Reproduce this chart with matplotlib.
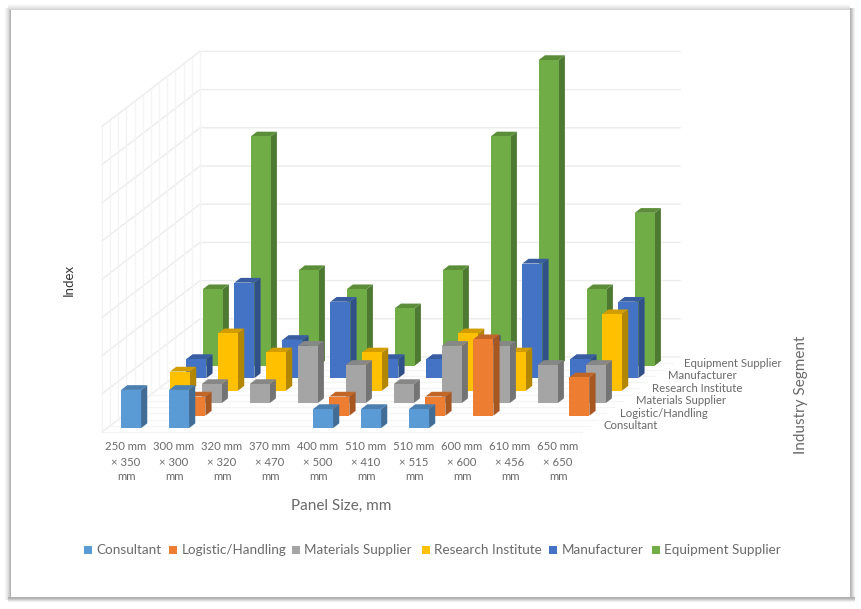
# -*- coding: utf-8 -*-
from matplotlib import pyplot as plt
from matplotlib.colors import to_rgb
from matplotlib.patches import Polygon, Rectangle

plt.rcParams['font.family'] = ['Lato', 'DejaVu Sans']

# Donnees du graphique :
panel_sizes = ["250 mm\n× 350\nmm", "300 mm\n× 300\nmm", "320 mm\n× 320\nmm",
               "370 mm\n× 470\nmm", "400 mm\n× 500\nmm", "510 mm\n× 410\nmm",
               "510 mm\n× 515\nmm", "600 mm\n× 600\nmm", "610 mm\n× 456\nmm",
               "650 mm\n× 650\nmm"]
segments = ["Consultant", "Logistic/Handling", "Materials Supplier",
            "Research Institute", "Manufacturer", "Equipment Supplier"]

consultant = [1, 1, 0, 0, 0.5, 0.5, 0.5, 0, 0, 0]
logistic = [0, 0.5, 0, 0, 0.5, 0, 0.5, 2, 0, 1]
materials = [0, 0.5, 0.5, 1.5, 1, 0.5, 1.5, 1.5, 1, 1]
research = [0.5, 1.5, 1, 0, 1, 0, 1.5, 1, 0, 2]
manufacturer = [0.5, 2.5, 1, 2, 0.5, 0.5, 1, 3, 0.5, 2]
equipment = [2, 6, 2.5, 2, 1.5, 2.5, 6, 8, 2, 4]

series = [consultant, logistic, materials, research, manufacturer, equipment]
colors = ["#5B9BD5", "#ED7D31", "#A5A5A5", "#FFC000", "#4472C4", "#70AD47"]

# Projection oblique (pixels) :
ORIGIN = (102.0, 432.0)
CAT_STEP = 48.0
ROW_DX, ROW_DY = 16.33, 12.5
UNIT = 38.2
BAR_W = 0.208
BAR_D = 0.19
MAX_INDEX = 8

TEXT_COLOR = "#6a6a6a"
GRID_COLOR = "#ececec"


def project(cat: float, row: float, val: float) -> tuple:
    """
    Passe de (categorie, rang, valeur) aux pixels de la figure.
    """
    x = ORIGIN[0] + CAT_STEP * cat + ROW_DX * row
    y = ORIGIN[1] - ROW_DY * row - UNIT * val
    return (x, y)


def shade(color: str, factor: float) -> tuple:
    return tuple(c * factor for c in to_rgb(color))


def draw_bar(ax, cat: int, row: int, val: float, color: str) -> None:
    """
    Dessine une barre : face avant, flanc droit et dessus.
    """
    c0, c1 = cat + 0.5 - BAR_W, cat + 0.5 + BAR_W
    r0, r1 = row + 0.5 - BAR_D, row + 0.5 + BAR_D

    front = [project(c0, r0, 0), project(c1, r0, 0),
             project(c1, r0, val), project(c0, r0, val)]
    side = [project(c1, r0, 0), project(c1, r1, 0),
            project(c1, r1, val), project(c1, r0, val)]
    top = [project(c0, r0, val), project(c1, r0, val),
           project(c1, r1, val), project(c0, r1, val)]

    ax.add_patch(Polygon(side, fc=shade(color, 0.7), ec="none"))
    ax.add_patch(Polygon(top, fc=shade(color, 0.82), ec="none"))
    ax.add_patch(Polygon(front, fc=color, ec="none"))


def draw_edge(ax, start: float, greys: list, span: tuple, vertical: bool,
              step: int) -> None:
    """
    Degrade du cadre, une bande d'un pixel par niveau de gris.
    """
    for k, g in enumerate(greys):
        pos = start + step * k
        if vertical:
            ax.add_patch(Rectangle((pos, span[0]), 1, span[1] - span[0],
                                   fc=str(g / 255), ec="none"))
        else:
            ax.add_patch(Rectangle((span[0], pos), span[1] - span[0], 1,
                                   fc=str(g / 255), ec="none"))


def draw_frame(ax) -> None:
    draw_edge(ax, 4, [252, 246, 238, 228, 216, 200, 178], (8, 600), True, 1)
    draw_edge(ax, 4, [252, 246, 238, 230, 222, 212], (8, 850), False, 1)
    draw_edge(ax, 855, [252, 242, 228, 212, 192, 180], (8, 602), True, -1)
    draw_edge(ax, 602, [252, 240, 222, 202, 182, 176], (8, 855), False, -1)
    ax.add_patch(Rectangle((11, 10), 839, 587, fc="white", ec="none"))


def draw_walls(ax) -> None:
    """
    Quadrillage du mur du fond, du mur gauche et du sol.
    """
    rows = len(segments)
    cats = len(panel_sizes)
    for v in range(MAX_INDEX + 1):
        xs, ys = zip(project(0, 0, v), project(0, rows, v), project(cats, rows, v))
        ax.plot(xs, ys, color=GRID_COLOR, lw=1.0, zorder=1)
    for h in range(rows * 2 + 1):
        xs, ys = zip(project(0, h / 2, 0), project(0, h / 2, MAX_INDEX))
        ax.plot(xs, ys, color="#f4f4f4", lw=0.9, zorder=1)
        xs, ys = zip(project(0, h / 2, 0), project(cats, h / 2, 0))
        ax.plot(xs, ys, color="#f4f4f4", lw=0.8, zorder=1)


def draw_labels(ax) -> None:
    for i, label in enumerate(panel_sizes):
        x = project(i, 0, 0)[0] + 24
        for k, part in enumerate(label.split("\n")):
            ax.text(x, 447 + 15 * k, part, ha="center", va="center",
                    fontsize=8.2, color=TEXT_COLOR)

    for j, name in enumerate(segments):
        x = 604 + 16 * j
        y = 425.5 - 12.4 * j
        ax.text(x, y, name, ha="left", va="center", fontsize=8.2,
                color=TEXT_COLOR)

    ax.text(341.5, 506, "Panel Size, mm", ha="center", va="center",
            fontsize=11, color=TEXT_COLOR)
    ax.text(801, 395, "Industry Segment", ha="center", va="center",
            rotation=90, fontsize=11, color=TEXT_COLOR)
    ax.text(69, 280, "Index", ha="center", va="center", rotation=90,
            fontsize=9.5, color="#333333")


def draw_legend(ax) -> None:
    marks = [84, 169, 292, 422, 549, 652]
    for x, name, color in zip(marks, segments, colors):
        ax.add_patch(Rectangle((x, 546), 8, 8, fc=color, ec="none"))
        ax.text(x + 12.5, 550, name, ha="left", va="center", fontsize=9.7,
                color=TEXT_COLOR)


def main() -> int:
    fig = plt.figure(figsize=(8.61, 6.09), dpi=100)
    ax = fig.add_axes([0, 0, 1, 1])
    ax.set_xlim(0, 861)
    ax.set_ylim(609, 0)
    ax.axis("off")

    draw_frame(ax)
    draw_walls(ax)

    # Du rang du fond vers l'avant, pour que les barres se recouvrent bien :
    for row in range(len(series) - 1, -1, -1):
        for cat, val in enumerate(series[row]):
            if val > 0:
                draw_bar(ax, cat, row, val, colors[row])

    draw_labels(ax)
    draw_legend(ax)

    fig.savefig("out.png", dpi=100)
    return (0)


if __name__ == "__main__":
    main()
